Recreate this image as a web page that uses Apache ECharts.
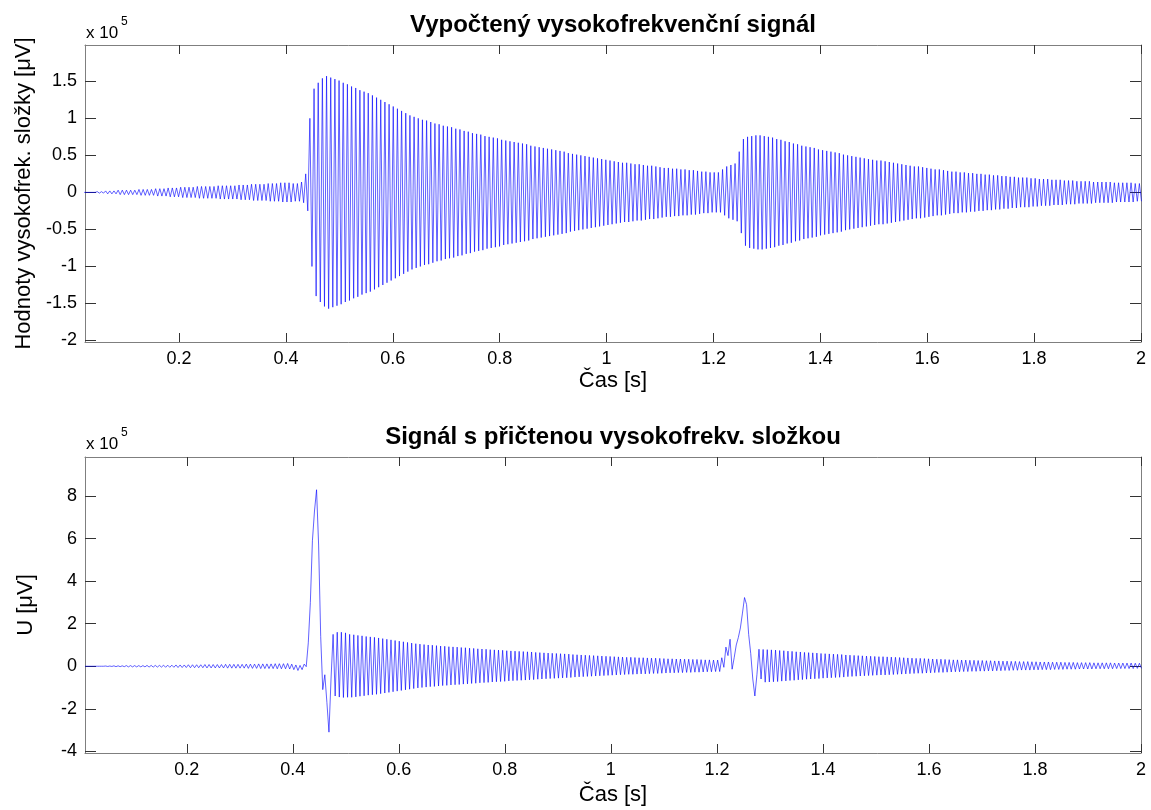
<!DOCTYPE html>
<html><head><meta charset="utf-8">
<script src="https://cdn.jsdelivr.net/npm/echarts@6/dist/echarts.min.js"></script>
<style>html,body{margin:0;padding:0;background:#fff}#c{width:1151px;height:810px}</style>
</head><body><div id="c"></div>
<script>
// ---- data ----
const cycleStart = 0.008;      // s, time of the first oscillation peak
const cyclePeriod = 0.0078;    // s, one oscillation of the HF component
const xTickValues = [0.2, 0.4, 0.6, 0.8, 1, 1.2, 1.4, 1.6, 1.8, 2];
const topYTickValues = [-2, -1.5, -1, -0.5, 0, 0.5, 1, 1.5];
const bottomYTickValues = [-4, -2, 0, 2, 4, 6, 8];
// amplitude of the HF signal for each cycle (x 10^5 uV)
const hfAmplitude = [
0,0,0,0,0,.01,.01,.02,.02,.02,
.03,.03,.03,.03,.03,.04,.04,.04,.04,.05,
.05,.05,.06,.06,.06,.07,.07,.07,.07,.08,
.08,.08,.08,.08,.09,.09,.09,.09,.09,.1,
.1,.1,.11,.11,.11,.11,.12,.12,.12,.13,
.13,.13,.12,.12,.14,.25,1,1.4,1.48,1.54,
1.57,1.55,1.53,1.51,1.48,1.46,1.43,1.41,1.38,1.36,
1.34,1.31,1.28,1.25,1.22,1.19,1.16,1.13,1.1,1.07,
1.04,1.02,1,.98,.97,.95,.93,.92,.9,.89,
.88,.86,.85,.83,.82,.8,.79,.78,.76,.75,
.74,.73,.71,.7,.69,.68,.67,.66,.65,.63,
.62,.61,.6,.59,.58,.57,.56,.55,.53,.52,
.51,.5,.49,.48,.47,.46,.45,.44,.43,.42,
.41,.4,.4,.39,.38,.38,.37,.36,.36,.35,
.34,.33,.33,.32,.32,.31,.31,.3,.3,.29,
.28,.28,.27,.27,.27,.31,.35,.37,.39,.55,
.72,.75,.76,.77,.77,.76,.75,.74,.72,.71,
.69,.68,.66,.65,.63,.62,.61,.6,.58,.57,
.56,.55,.54,.53,.51,.5,.49,.48,.47,.46,
.45,.44,.43,.43,.42,.41,.4,.39,.38,.37,
.36,.35,.35,.34,.33,.32,.31,.31,.3,.29,
.28,.28,.27,.27,.26,.26,.25,.25,.24,.24,
.23,.23,.22,.22,.21,.21,.2,.2,.2,.19,
.19,.18,.18,.18,.17,.17,.17,.16,.16,.16,
.15,.15,.15,.15,.14,.14,.14,.14,.14,.13,
.13,.13,.13,.13,.12,.12
];
// signal with added HF component: successive extremes every half cycle (x 10^5 uV)
const sumExtremes = [
0,0,0,0,0,0,0,0,0,0,
.01,-.01,.01,-.01,.02,-.02,.02,-.02,.02,-.02,
.03,-.03,.03,-.03,.03,-.03,.03,-.03,.03,-.03,
.04,-.04,.04,-.04,.04,-.04,.04,-.04,.05,-.05,
.05,-.05,.05,-.05,.06,-.06,.06,-.06,.06,-.06,
.07,-.07,.07,-.07,.07,-.07,.07,-.07,.08,-.08,
.08,-.08,.08,-.08,.08,-.08,.08,-.08,.09,-.09,
.09,-.09,.09,-.09,.09,-.09,.09,-.09,.1,-.1,
.1,-.1,.1,-.1,.11,-.11,.11,-.11,.11,-.11,
.11,-.11,.12,-.12,.12,-.12,.12,-.12,.13,-.13,
.1,-.16,.06,-.2,.04,-.16,.1,-.02,1.1,3,
5.9,7.3,8.3,5.7,1.4,-1.1,-.4,-1.7,-3.1,-.6,
1.5,-1.4,1.6,-1.45,1.6,-1.47,1.57,-1.46,1.5,-1.46,
1.48,-1.44,1.45,-1.41,1.43,-1.39,1.4,-1.36,1.38,-1.34,
1.36,-1.32,1.33,-1.29,1.3,-1.26,1.27,-1.23,1.24,-1.2,
1.21,-1.17,1.18,-1.14,1.15,-1.11,1.12,-1.08,1.09,-1.05,
1.06,-1.02,1.04,-1,1.02,-.98,1,-.96,.99,-.95,
.97,-.93,.95,-.91,.94,-.9,.92,-.88,.91,-.87,
.9,-.86,.88,-.84,.87,-.83,.85,-.81,.84,-.8,
.82,-.78,.81,-.77,.8,-.76,.78,-.74,.77,-.73,
.76,-.72,.75,-.71,.73,-.69,.72,-.68,.71,-.67,
.7,-.66,.69,-.65,.68,-.64,.67,-.63,.65,-.61,
.64,-.6,.63,-.59,.62,-.58,.61,-.57,.6,-.56,
.59,-.55,.58,-.54,.57,-.53,.55,-.51,.54,-.5,
.53,-.49,.52,-.48,.51,-.47,.5,-.46,.49,-.45,
.48,-.44,.47,-.43,.46,-.42,.45,-.41,.44,-.4,
.43,-.39,.42,-.38,.42,-.38,.41,-.37,.4,-.36,
.4,-.36,.39,-.35,.38,-.34,.38,-.34,.37,-.33,
.36,-.32,.35,-.31,.35,-.31,.34,-.3,.34,-.3,
.33,-.29,.33,-.29,.32,-.28,.32,-.28,.31,-.27,
.3,-.26,.3,-.26,.29,-.25,.29,-.25,.4,-.05,
.9,.5,1.27,-.14,.4,1,1.35,1.8,2.5,3.23,
2.9,1.5,.6,-.6,-1.4,-.4,.8,-.6,.79,-.75,
.78,-.74,.77,-.73,.76,-.72,.74,-.7,.73,-.69,
.71,-.67,.7,-.66,.68,-.64,.67,-.63,.65,-.61,
.64,-.6,.63,-.59,.62,-.58,.6,-.56,.59,-.55,
.58,-.54,.57,-.53,.56,-.52,.55,-.51,.53,-.49,
.52,-.48,.51,-.47,.5,-.46,.49,-.45,.48,-.44,
.47,-.43,.46,-.42,.45,-.41,.45,-.41,.44,-.4,
.43,-.39,.42,-.38,.41,-.37,.4,-.36,.39,-.35,
.38,-.34,.37,-.33,.37,-.33,.36,-.32,.35,-.31,
.34,-.3,.33,-.29,.33,-.29,.32,-.28,.31,-.27,
.3,-.26,.3,-.26,.29,-.25,.29,-.25,.28,-.24,
.28,-.24,.27,-.23,.27,-.23,.26,-.22,.26,-.22,
.25,-.21,.25,-.21,.24,-.2,.24,-.2,.23,-.19,
.23,-.19,.22,-.18,.22,-.18,.22,-.18,.21,-.17,
.21,-.17,.2,-.16,.2,-.16,.2,-.16,.19,-.15,
.19,-.15,.19,-.15,.18,-.14,.18,-.14,.18,-.14,
.17,-.13,.17,-.13,.17,-.13,.17,-.13,.16,-.12,
.16,-.12,.16,-.12,.16,-.12,.16,-.12,.15,-.11,
.15,-.11,.15,-.11,.15,-.11,.15,-.11,.14,-.1,
.14,-.1
];
const titles = ['Vypočtený vysokofrekvenční signál', 'Signál s přičtenou vysokofrekv. složkou'];
const xName = 'Čas [s]';
const yNames = ['Hodnoty vysokofrek. složky [μV]', 'U [μV]'];

// ---- build series data ----
const topData = [];
hfAmplitude.forEach((a, k) => {
  const t = cycleStart + k * cyclePeriod;
  topData.push([t, a], [t + cyclePeriod / 2, -a]);
});
const bottomData = sumExtremes.map((v, j) => [cycleStart + j * cyclePeriod / 2, v]);

const FONT = '"Liberation Sans", Arial, Helvetica, sans-serif';
const AX = '#7f7f7f', TK = '#333';
function xAx(grid, min, pos, labels, gap) {
  return {
    type: 'value', gridIndex: grid, position: pos, min: min, max: 2,
    axisLine: { show: true, onZero: false, lineStyle: { color: AX, width: 1 } },
    axisTick: { show: true, inside: true, length: 9, customValues: xTickValues, lineStyle: { color: TK } },
    axisLabel: { show: labels, customValues: xTickValues, margin: 8, fontSize: 18, color: '#000', fontFamily: FONT },
    splitLine: { show: false },
    name: labels ? xName : '', nameLocation: 'middle', nameGap: gap || 28,
    nameTextStyle: { fontSize: 22, color: '#000', fontFamily: FONT }
  };
}
function yAx(grid, min, max, ticks, pos, labels, name) {
  return {
    type: 'value', gridIndex: grid, position: pos, min: min, max: max,
    axisLine: { show: true, onZero: false, lineStyle: { color: AX, width: 1 } },
    axisTick: { show: true, inside: true, length: 11, customValues: ticks, lineStyle: { color: TK } },
    axisLabel: { show: labels, customValues: ticks, margin: 8, fontSize: 18, color: '#000', fontFamily: FONT },
    splitLine: { show: false },
    name: labels ? name : '', nameLocation: 'middle', nameGap: 48,
    nameTextStyle: { fontSize: 22, color: '#000', fontFamily: FONT }
  };
}
const LINE = { color: '#0000ff', width: 1, opacity: 0.62 };
const chart = echarts.init(document.getElementById('c'), null, { renderer: 'canvas' });
chart.setOption({
  animation: false,
  backgroundColor: '#fff',
  grid: [
    { left: 85, top: 45, width: 1056, height: 297 },
    { left: 85, top: 457, width: 1056, height: 296 }
  ],
  xAxis: [
    xAx(0, 0.024, 'bottom', true, 28), xAx(0, 0.024, 'top', false),
    xAx(1, 0.008, 'bottom', true, 31), xAx(1, 0.008, 'top', false)
  ],
  yAxis: [
    yAx(0, -2.02, 1.99, topYTickValues, 'left', true, yNames[0]),
    yAx(0, -2.02, 1.99, topYTickValues, 'right', false, ''),
    yAx(1, -4.08, 9.84, bottomYTickValues, 'left', true, yNames[1]),
    yAx(1, -4.08, 9.84, bottomYTickValues, 'right', false, '')
  ],
  series: [
    { type: 'line', xAxisIndex: 0, yAxisIndex: 0, data: topData, showSymbol: false, symbol: 'none',
      sampling: false, clip: true, lineStyle: LINE },
    { type: 'line', xAxisIndex: 2, yAxisIndex: 2, data: bottomData, showSymbol: false, symbol: 'none',
      sampling: false, clip: true, lineStyle: LINE }
  ],
  graphic: [
    { type: 'text', x: 613, y: 25, style: { text: titles[0], font: 'bold 24px ' + FONT, fill: '#000', align: 'center', verticalAlign: 'middle' } },
    { type: 'text', x: 613, y: 437, style: { text: titles[1], font: 'bold 24px ' + FONT, fill: '#000', align: 'center', verticalAlign: 'middle' } },
    { type: 'text', x: 86, y: 33, style: { text: 'x 10', font: '17px ' + FONT, fill: '#000', align: 'left', verticalAlign: 'middle' } },
    { type: 'text', x: 121, y: 22, style: { text: '5', font: '12px ' + FONT, fill: '#000', align: 'left', verticalAlign: 'middle' } },
    { type: 'text', x: 86, y: 444, style: { text: 'x 10', font: '17px ' + FONT, fill: '#000', align: 'left', verticalAlign: 'middle' } },
    { type: 'text', x: 121, y: 433, style: { text: '5', font: '12px ' + FONT, fill: '#000', align: 'left', verticalAlign: 'middle' } }
  ]
});
</script></body></html>
